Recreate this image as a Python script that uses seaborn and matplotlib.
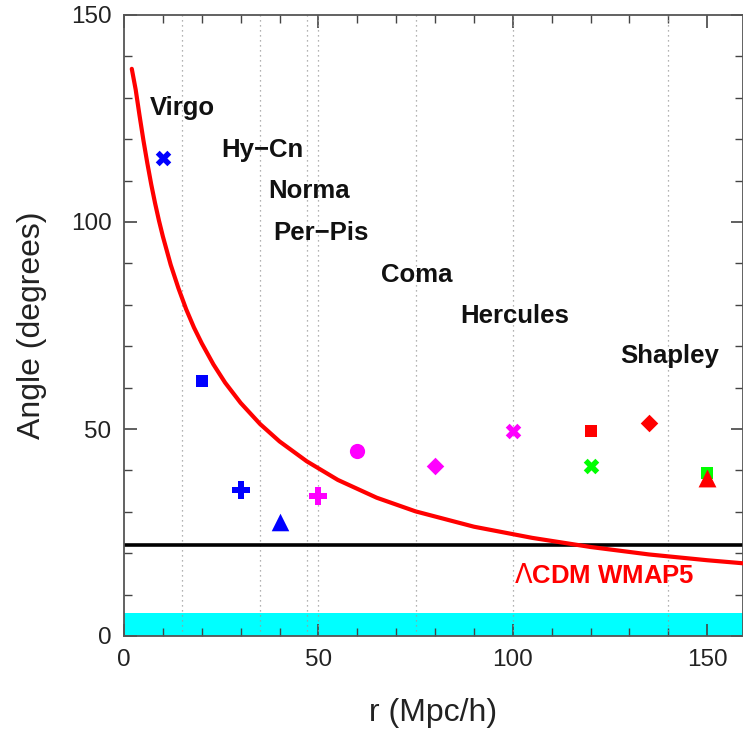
import matplotlib
matplotlib.use("Agg")
import matplotlib.pyplot as plt
from matplotlib.ticker import MultipleLocator
import seaborn as sns
import pandas as pd

# ---- data ----
cluster_r = [10, 20, 30, 40, 50, 60, 80, 100, 120, 120, 135, 150, 150]
cluster_angle = [115.5, 61.5, 35.3, 27.5, 33.7, 44.7, 41.0, 49.4, 49.4, 41.1, 51.5, 39.4, 38.2]
cluster_marker = ["X", "s", "P", "^", "P", "o", "D", "X", "s", "X", "D", "s", "^"]
cluster_color = ["#0000ff", "#0000ff", "#0000ff", "#0000ff", "#ff00ff", "#ff00ff", "#ff00ff",
                 "#ff00ff", "#ff0000", "#00ff00", "#ff0000", "#00ff00", "#ff0000"]
cluster_size = [125, 78, 150, 160, 150, 120, 80, 125, 78, 125, 80, 78, 165]

lcdm_r = [2, 3, 4, 5, 6, 7, 8, 9, 10, 12, 14, 16, 18, 20, 23, 26, 30, 35, 40, 47,
          55, 65, 75, 90, 105, 120, 135, 150, 160]
lcdm_angle = [137.0, 132.0, 125.7, 119.7, 114.2, 109.1, 104.5, 100.3, 96.5, 89.7, 84.0,
              78.9, 74.5, 70.7, 65.6, 61.2, 56.3, 51.2, 47.0, 42.2,
              37.7, 33.4, 30.1, 26.4, 23.7, 21.5, 19.7, 18.3, 17.5]

labels = ["Virgo", "Hy\u2212Cn", "Norma", "Per\u2212Pis", "Coma", "Hercules", "Shapley"]
label_r = [6.7, 25.1, 37.1, 38.4, 66.0, 86.6, 127.6]
label_angle = [125.8, 115.8, 105.7, 95.7, 85.6, 75.5, 65.9]

dotted_r = [15, 35, 47, 50, 75, 100, 140]
wmap_angle = 22.0
band_top = 5.5
x_ticks = [0, 50, 100, 150]
y_ticks = [0, 50, 100, 150]

# ---- style ----
sns.set_theme(style="ticks")
plt.rcParams["font.family"] = ["Liberation Sans", "DejaVu Sans"]
plt.rcParams["mathtext.fontset"] = "dejavusans"

fig = plt.figure(figsize=(7.43, 7.30), dpi=100)
ax = fig.add_axes([124 / 743, 94 / 730, 619 / 743, 621 / 730])

# cyan band
ax.axhspan(0, band_top, color="#00ffff", lw=0, zorder=0)
# dotted verticals
for xv in dotted_r:
    ax.axvline(xv, color="#999999", lw=0.9, ls=(0, (1, 3)), zorder=1)
# horizontal black line
ax.axhline(wmap_angle, color="black", lw=2.6, zorder=2)

# LCDM curve
df_curve = pd.DataFrame({"r": lcdm_r, "angle": lcdm_angle})
sns.lineplot(data=df_curve, x="r", y="angle", color="#ff0000", lw=3.0, ax=ax, zorder=3,
             sort=False)

# cluster markers
for r, a, m, c, s in zip(cluster_r, cluster_angle, cluster_marker, cluster_color, cluster_size):
    sns.scatterplot(x=[r], y=[a], marker=m, color=c, s=s, linewidth=0, ax=ax, zorder=4)

# text labels
for t, r, a in zip(labels, label_r, label_angle):
    ax.text(r, a, t, fontsize=18.5, fontweight="bold", color="#111111",
            ha="left", va="baseline", zorder=5)
ax.text(100.2, 12.7, "$\\Lambda$CDM WMAP5", fontsize=18.5, fontweight="bold",
        color="#ff0000", ha="left", va="baseline", zorder=5)

ax.set_xlim(0, 159.2)
ax.set_ylim(0, 150)
ax.set_xticks(x_ticks)
ax.set_yticks(y_ticks)
ax.xaxis.set_minor_locator(MultipleLocator(10))
ax.yaxis.set_minor_locator(MultipleLocator(10))
ax.tick_params(which="both", direction="in", top=True, right=True, colors="#444444",
               labelcolor="#222222", labelsize=17.5)
ax.tick_params(which="major", length=9, width=1.2, pad=9)
ax.tick_params(which="minor", length=6, width=1.0)
for sp in ax.spines.values():
    sp.set_color("#555555")
    sp.set_linewidth(1.3)

ax.set_xlabel("r (Mpc/h)", fontsize=23, color="#222222", labelpad=20)
ax.set_ylabel("Angle (degrees)", fontsize=23, color="#222222", labelpad=17)

fig.savefig("out.png", dpi=100)
